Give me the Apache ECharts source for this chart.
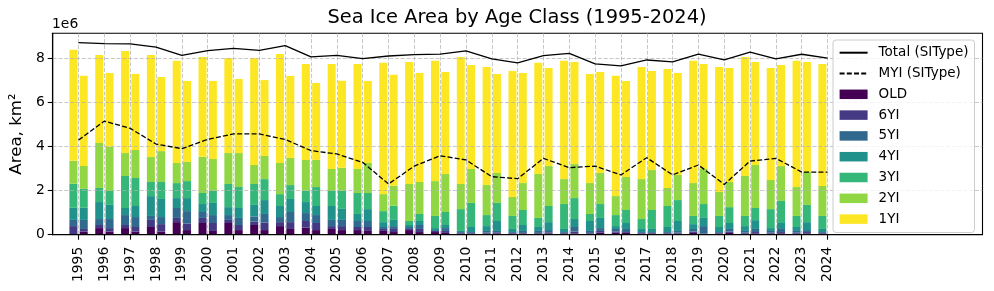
<!DOCTYPE html>
<html>
<head>
<meta charset="utf-8">
<script src="https://cdn.jsdelivr.net/npm/echarts@6/dist/echarts.min.js"></script>
<style>
html,body{margin:0;padding:0;background:#fff;}
#chart{width:994px;height:291px;}
</style>
</head>
<body>
<div id="chart"></div>
<script>
// Values in units of 1e6 km²
const years = [1995,1996,1997,1998,1999,2000,2001,2002,2003,2004,2005,2006,2007,2008,2009,2010,2011,2012,2013,2014,2015,2016,2017,2018,2019,2020,2021,2022,2023,2024];
// First bar of each year (A: 1995-2024) and second bar (B: 1995-2023)
const oldA = [0.02,0.30,0.30,0.35,0.57,0.53,0.53,0.44,0.39,0.32,0.26,0.21,0.17,0.21,0.12,0.05,0.05,0.05,0.05,0.05,0.05,0.09,0.05,0.05,0.08,0.05,0.05,0.05,0.05,0.05];
const oldB = [0.14,0.14,0.14,0.14,0.21,0.17,0.21,0.21,0.26,0.21,0.21,0.17,0.12,0.12,0.08,0.05,0.06,0.05,0.06,0.06,0.09,0.08,0.05,0.05,0.03,0.08,0.06,0.06,0.06];
const y6A = [0.37,0.14,0.14,0.32,0.19,0.23,0.14,0.16,0.18,0.30,0.13,0.14,0.09,0.05,0.05,0.03,0.04,0.03,0.03,0.03,0.03,0.06,0.03,0.03,0.06,0.03,0.04,0.04,0.04,0.03];
const y6B = [0.12,0.16,0.21,0.34,0.30,0.36,0.23,0.34,0.31,0.32,0.18,0.18,0.14,0.14,0.09,0.03,0.05,0.03,0.05,0.08,0.08,0.04,0.03,0.04,0.03,0.06,0.06,0.06,0.06];
const y5A = [0.28,0.27,0.45,0.18,0.45,0.27,0.22,0.23,0.23,0.36,0.28,0.27,0.09,0.09,0.04,0.04,0.08,0.04,0.09,0.04,0.09,0.11,0.04,0.04,0.12,0.04,0.08,0.08,0.08,0.04];
const y5B = [0.41,0.41,0.45,0.32,0.56,0.36,0.32,0.39,0.46,0.36,0.28,0.27,0.13,0.18,0.13,0.04,0.06,0.09,0.10,0.21,0.13,0.14,0.04,0.08,0.33,0.12,0.14,0.14,0.09];
const y4A = [0.55,0.77,0.32,0.90,0.45,0.36,0.36,0.52,0.50,0.50,0.63,0.32,0.22,0.09,0.09,0.05,0.22,0.14,0.18,0.14,0.45,0.13,0.14,0.23,0.22,0.23,0.22,0.13,0.18,0.14];
const y4B = [0.55,0.64,0.50,0.82,0.59,0.55,0.45,0.63,0.59,0.41,0.50,0.54,0.28,0.18,0.14,0.23,0.45,0.27,0.36,0.36,0.46,0.27,0.14,0.45,0.37,0.27,0.40,0.27,0.36];
const y3A = [1.09,0.64,1.45,0.64,0.68,0.50,1.05,0.95,0.54,0.52,0.68,0.95,0.50,0.18,0.55,0.99,0.50,0.59,0.41,1.13,0.32,0.50,0.45,0.95,0.37,0.50,0.46,0.86,0.50,0.59];
const y3B = [0.86,0.63,1.27,0.77,0.77,0.56,0.95,0.95,0.63,0.86,0.82,0.73,0.64,0.32,0.59,1.09,0.82,0.68,0.73,0.95,0.63,0.59,0.86,0.95,0.63,0.72,0.55,1.00,0.78];
const y2A = [1.04,2.04,1.04,1.13,0.91,1.64,1.40,0.86,1.41,1.39,1.00,1.09,0.77,1.68,1.58,1.14,1.36,0.86,1.99,1.13,1.40,0.86,1.81,0.82,1.49,1.09,1.81,1.32,1.31,1.36];
const y2B = [1.04,2.01,1.27,1.40,0.87,1.43,1.54,1.05,1.23,1.23,1.04,1.36,0.91,1.45,1.72,1.54,1.36,1.22,1.81,1.54,1.41,1.50,1.81,1.14,1.59,1.14,1.95,1.58,1.49];
const y1A = [5.03,3.99,4.63,4.63,4.63,4.53,4.31,4.85,4.94,4.35,4.76,4.76,5.95,5.53,5.45,5.76,5.35,5.71,5.04,5.36,4.95,5.45,5.08,5.39,5.54,5.66,5.40,5.08,5.72,5.53];
const y1B = [4.09,3.34,3.45,3.36,3.67,3.54,3.36,3.44,3.72,3.49,3.95,3.72,5.03,4.94,4.63,4.71,4.49,4.99,4.45,4.63,4.58,4.35,4.49,4.62,4.76,5.17,4.67,4.58,4.99];
const totalSIType = [8.71,8.66,8.65,8.50,8.13,8.34,8.45,8.36,8.57,8.06,8.13,7.98,8.10,8.16,8.19,8.33,7.97,7.79,8.12,8.22,7.74,7.65,7.92,7.83,8.19,7.92,8.28,7.97,8.18,8.00];
const myiSIType = [4.29,5.15,4.82,4.11,3.90,4.32,4.57,4.57,4.32,3.81,3.66,3.28,2.30,3.11,3.58,3.39,2.63,2.54,3.46,3.04,3.11,2.71,3.49,2.71,3.16,2.28,3.34,3.46,2.84,2.84];
const yTicks = [0,2,4,6,8];

const classes = [
  {name:'OLD', A:oldA, B:oldB, color:'#440154'},
  {name:'6YI', A:y6A, B:y6B, color:'#443983'},
  {name:'5YI', A:y5A, B:y5B, color:'#31688e'},
  {name:'4YI', A:y4A, B:y4B, color:'#21918c'},
  {name:'3YI', A:y3A, B:y3B, color:'#35b779'},
  {name:'2YI', A:y2A, B:y2B, color:'#90d743'},
  {name:'1YI', A:y1A, B:y1B, color:'#fde725'}
];

const FONT = 'DejaVu Sans';
// rows are [value, xPosition] so that the value dimension is the stacked one
function pairData(A, B){
  const out = [];
  years.forEach((yr, i) => {
    out.push([A[i], yr - 0.2]);
    if (i < B.length) out.push([B[i], yr + 0.2]);
  });
  return out;
}

const series = classes.map(c => ({
  name: c.name, type: 'bar', stack: 'age', barWidth: 8,
  encode: {x: 1, y: 0},
  itemStyle: {color: c.color}, z: 1,
  data: pairData(c.A, c.B)
}));
series.push({
  name: 'Total (SIType)', type: 'line', symbol: 'none', z: 5,
  lineStyle: {color: '#000', width: 1.3},
  itemStyle: {color: '#000'},
  data: years.map((y, i) => [y, totalSIType[i]])
});
series.push({
  name: 'MYI (SIType)', type: 'line', symbol: 'none', z: 5,
  lineStyle: {color: '#000', width: 1.3, type: [5, 2.2]},
  itemStyle: {color: '#000'},
  data: years.map((y, i) => [y, myiSIType[i]])
});

const hiddenSym = {color: 'rgba(0,0,0,0)', borderColor: 'rgba(0,0,0,0)', borderWidth: 0};

const chart = echarts.init(document.getElementById('chart'), null, {renderer: 'canvas'});
chart.setOption({
  animation: false,
  backgroundColor: '#fff',
  title: {
    text: 'Sea Ice Area by Age Class (1995-2024)',
    left: 517, top: 8, textAlign: 'center', padding: 0,
    textStyle: {fontFamily: FONT, fontSize: 19.4, fontWeight: 'normal', color: '#000'}
  },
  graphic: [{
    type: 'text', left: 52, top: 17,
    style: {text: '1e6', font: '13.9px "DejaVu Sans"', fill: '#000'}
  }],
  grid: {left: 52, right: 11.5, top: 33.3, bottom: 56.3, show: true, borderColor: '#000', borderWidth: 1.1, backgroundColor: 'transparent', z: 3},
  legend: {
    orient: 'vertical', left: 833, top: 40,
    data: [
      {name: 'Total (SIType)', itemStyle: hiddenSym}, {name: 'MYI (SIType)', itemStyle: hiddenSym},
      {name: 'OLD', icon: 'rect'}, {name: '6YI', icon: 'rect'}, {name: '5YI', icon: 'rect'},
      {name: '4YI', icon: 'rect'}, {name: '3YI', icon: 'rect'}, {name: '2YI', icon: 'rect'}, {name: '1YI', icon: 'rect'}
    ],
    itemWidth: 28, itemHeight: 9.5, itemGap: 6.8,
    padding: [5.7, 6, 6.4, 5.6],
    backgroundColor: 'rgba(255,255,255,0.8)', borderColor: '#cccccc', borderWidth: 1, borderRadius: 3,
    textStyle: {fontFamily: FONT, fontSize: 13.5, color: '#000', lineHeight: 14, padding: [0, 0, 0, 6]},
    selectedMode: false, z: 10
  },
  xAxis: {
    type: 'value', min: 1994, max: 2030, z: 3,
    axisLine: {show: true, lineStyle: {color: '#000', width: 1.1}},
    axisTick: {show: true, length: 5, lineStyle: {color: '#000', width: 1.1}, customValues: years},
    axisLabel: {
      customValues: years, rotate: 90, margin: 12,
      fontFamily: FONT, fontSize: 13.9, color: '#000',
      formatter: v => String(v)
    },
    splitLine: {show: true, lineStyle: {color: '#b0b0b0', opacity: 0.7, width: 1, type: [4, 1.8]}}
  },
  yAxis: {
    type: 'value', min: 0, max: 9.13, interval: 2, z: 3,
    name: 'Area, km²', nameLocation: 'middle', nameGap: 26, nameRotate: 90,
    nameTextStyle: {fontFamily: FONT, fontSize: 16.67, color: '#000'},
    axisLine: {show: true, lineStyle: {color: '#000', width: 1.1}},
    axisTick: {show: true, length: 5, lineStyle: {color: '#000', width: 1.1}, customValues: yTicks},
    axisLabel: {customValues: yTicks, margin: 8, fontFamily: FONT, fontSize: 13.9, color: '#000', formatter: v => String(v)},
    splitLine: {show: true, lineStyle: {color: '#b0b0b0', opacity: 0.7, width: 1, type: [4, 1.8]}}
  },
  series: series
});
</script>
</body>
</html>
